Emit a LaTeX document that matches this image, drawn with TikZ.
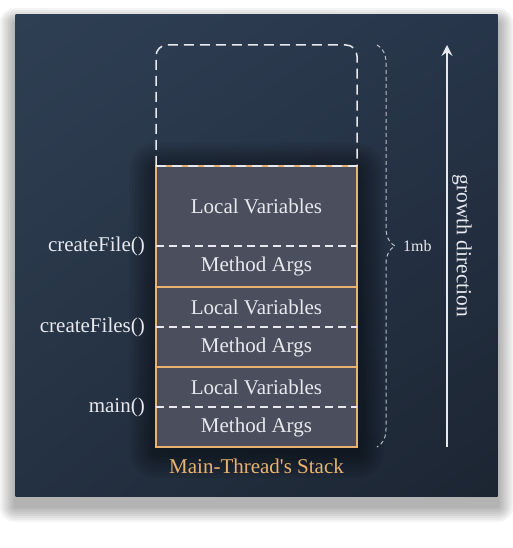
\documentclass[tikz,border=0pt]{standalone}
\usepackage{fontspec}
\setmainfont{Liberation Serif}
\usetikzlibrary{positioning,shadings,arrows.meta,decorations.pathreplacing}

\definecolor{panelUL}{HTML}{2F3F53}
\definecolor{panelUR}{HTML}{27354A}
\definecolor{panelLL}{HTML}{243142}
\definecolor{panelLR}{HTML}{1C2532}
\definecolor{slotgray}{HTML}{4A4E5D}
\definecolor{stackorange}{HTML}{E9B36F}
\definecolor{txtwhite}{HTML}{E8E9EE}
\definecolor{bracegray}{HTML}{B9BEC7}

\tikzset{
  panel/.style={upper left=panelUL, upper right=panelUR,
    lower left=panelLL, lower right=panelLR},
  softshade/.style={fill=black, opacity=#1},
  slot/.style={fill=slotgray, minimum width=201pt, inner sep=0pt,
    outer sep=0pt, text=txtwhite, font=\fontsize{21}{24}\selectfont},
  frameline/.style={draw=stackorange, line width=1.5pt},
  sepline/.style={draw=txtwhite, line width=1.5pt, dash pattern=on 8pt off 5pt},
  freeline/.style={draw=txtwhite, line width=1.5pt, dash pattern=on 10pt off 6pt},
  lbl/.style={text=txtwhite, inner sep=0pt, font=\fontsize{21}{24}\selectfont},
}

\begin{document}
\begin{tikzpicture}[x=1pt,y=1pt]
  \useasboundingbox (0,0) rectangle (513,548);

  % Background panel with its shadow
  \coordinate (pansw) at (15.5,51);
  \coordinate (panne) at (497.5,533);
  \foreach \r in {2,4,...,16}
    \fill[softshade=0.045, rounded corners=\r pt]
      ([shift={(-\r pt,-\r pt-9pt)}]pansw) rectangle ([shift={(\r pt,\r pt-9pt)}]panne);
  \shade[panel] (pansw) rectangle (panne);

  % Glow round the stack
  \coordinate (stacksw) at (156,101);
  \coordinate (stackne) at (357,382);
  \foreach \r in {3,6,...,27}
    \fill[softshade=0.05, rounded corners=\r pt]
      ([shift={(-\r pt,-\r pt-4pt)}]stacksw) rectangle ([shift={(\r pt,\r pt-4pt)}]stackne);

  % Define nodes
  \node[slot, minimum height=40pt] (ma3) at (256.5,121) {Method Args};
  \node[slot, minimum height=40pt, above=0pt of ma3] (lv3) {Local Variables};
  \node[slot, minimum height=40pt, above=0pt of lv3] (ma2) {Method Args};
  \node[slot, minimum height=40pt, above=0pt of ma2] (lv2) {Local Variables};
  \node[slot, minimum height=41pt, above=0pt of lv2] (ma1) {Method Args};
  \node[slot, minimum height=80pt, above=0pt of ma1] (lv1) {Local Variables};

  \node[lbl, left=11pt of ma1.north west] (createfile) {createFile()};
  \node[lbl, left=11pt of ma2.north west] (createfiles) {createFiles()};
  \node[lbl, left=11pt of ma3.north west] (mainfn) {main()};
  \node[lbl, text=stackorange, below=12pt of ma3] (stackname)
    {Main-Thread\textquotesingle s Stack};

  \coordinate (free) at (156,503);
  \coordinate (bracetop) at (377,503);
  \coordinate (bracebot) at (377,101);
  \coordinate (growbot) at (447,101);
  \coordinate (growtop) at (447,503);
  \node[lbl, anchor=west, font=\fontsize{16}{18}\selectfont] (size) at (403,302) {1mb};
  \node[lbl, rotate=-90, font=\fontsize{21.5}{24}\selectfont] (growth) at (462,302)
    {growth direction};

  % Frames
  \draw[frameline] (lv1.north west) rectangle (ma1.south east);
  \draw[frameline] (lv2.north west) rectangle (ma2.south east);
  \draw[frameline] (lv3.north west) rectangle (ma3.south east);
  \draw[sepline] (ma1.north west) -- (ma1.north east);
  \draw[sepline] (ma2.north west) -- (ma2.north east);
  \draw[sepline] (ma3.north west) -- (ma3.north east);

  % Free space above the stack
  \draw[freeline, rounded corners=11pt] (lv1.north west) -- (free) -| (lv1.north east);
  \draw[freeline] (lv1.north west) -- (lv1.north east);

  % Connect the nodes
  \draw[bracegray, line width=1pt, dash pattern=on 4pt off 3pt,
    decorate, decoration={brace, amplitude=18pt}] (bracetop) -- (bracebot);
  \draw[txtwhite, line width=1.5pt, -{Stealth[length=11pt, width=11pt, inset=4pt]}]
    (growbot) -- (growtop);

\end{tikzpicture}
\end{document}
